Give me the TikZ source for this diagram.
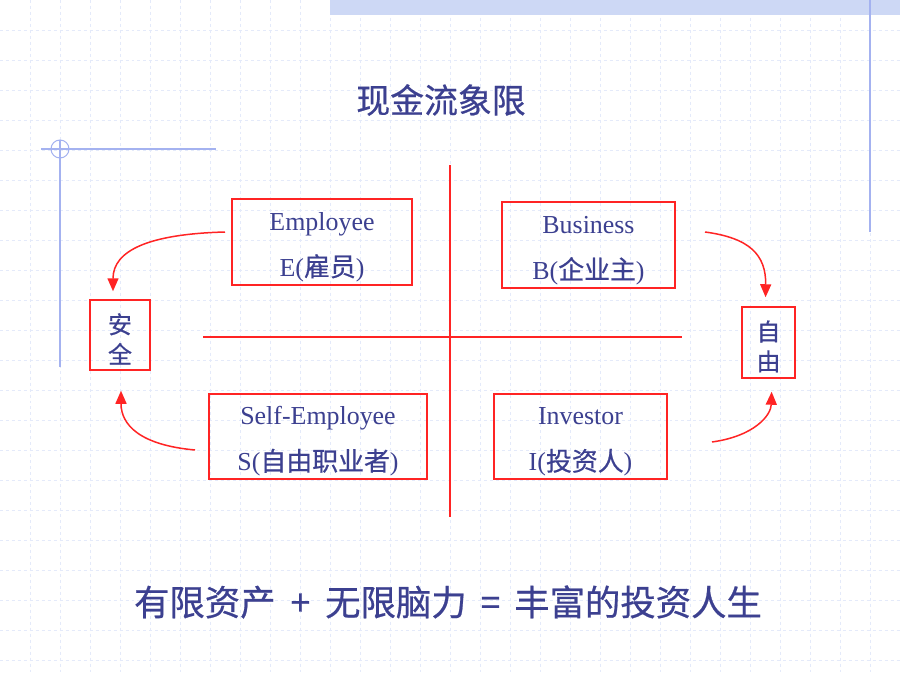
\documentclass[tikz,border=0pt]{standalone}
\usepackage{fontspec}
\setmainfont{Liberation Serif}
\newfontfamily\cjk[FakeBold=0.6]{Noto Sans CJK SC}
\usetikzlibrary{arrows.meta}
\definecolor{inkblue}{HTML}{3C4090}
\definecolor{linered}{HTML}{FF2424}
\definecolor{rulerblue}{HTML}{A4B2F0}
\definecolor{gridblue}{HTML}{E4EAFA}
\definecolor{bandblue}{HTML}{CDD8F5}
\newcommand{\firstline}{\rule{0pt}{28bp}}

\begin{document}
\begin{tikzpicture}[x=1bp,y=-1bp,
    quad/.style={draw=linered,line width=1.5bp,text=inkblue,align=center,inner sep=0pt,
        font=\fontsize{26}{46}\selectfont},
    side/.style={draw=linered,line width=1.5bp,text=inkblue,align=center,inner sep=0pt,
        font=\fontsize{24}{30}\selectfont\cjk},
    flow/.style={draw=linered,line width=1.5bp,-{Triangle[length=13bp,width=11bp]}}]
    \useasboundingbox (0,0) rectangle (900,675);
    \fill[white] (0,0) rectangle (900,675);
    \foreach \i in {30,60,...,870} \draw[gridblue,dashed] (\i,0) -- (\i,675);
    \foreach \j in {30,60,...,660} \draw[gridblue,dashed] (0,\j) -- (900,\j);
    \fill[bandblue] (330,0) rectangle (900,15);

    \draw[rulerblue,line width=1.5bp] (870,0) -- (870,232);
    \draw[rulerblue,line width=1.5bp] (41,149) -- (216,149);
    \draw[rulerblue,line width=1.5bp] (60,140) -- (60,367);
    \draw[rulerblue,line width=1bp] (60,149) circle [radius=9];

    \node[text=inkblue,font=\fontsize{34}{40}\selectfont\cjk] (title) at (441,100) {现金流象限};

    \draw[linered,line width=1.5bp] (203,337) -- (682,337);
    \draw[linered,line width=1.5bp] (450,165) -- (450,517);

    \node[quad,minimum width=180bp,minimum height=86bp] (emp) at (322,242) {\firstline Employee\\E({\cjk 雇员})};
    \node[quad,minimum width=173bp,minimum height=86bp] (bus) at (588.5,245) {\firstline Business\\B({\cjk 企业主})};
    \node[quad,minimum width=218bp,minimum height=85bp] (self) at (318,436.5) {\firstline Self-Employee\\S({\cjk 自由职业者})};
    \node[quad,minimum width=173bp,minimum height=85bp] (inv) at (580.5,436.5) {\firstline Investor\\I({\cjk 投资人})};

    \node[side,minimum width=60bp,minimum height=70bp] (safe) at (120,335) {\rule{0pt}{28bp}安\\全};
    \node[side,minimum width=53bp,minimum height=71bp] (free) at (768.5,342.5) {\rule{0pt}{28bp}自\\由};

    \coordinate (empout) at (225,232);
    \coordinate (selfout) at (195,450);
    \coordinate (busout) at (705,232);
    \coordinate (invout) at (712,442);
    \draw[flow,shorten >=8bp] (empout) .. controls (150,234) and (113,250) .. ([xshift=-7bp]safe.north);
    \draw[flow,shorten >=20bp] (selfout) .. controls (140,445) and (121,425) .. ([xshift=1bp]safe.south);
    \draw[flow,shorten >=9bp] (busout) .. controls (750,238) and (766,255) .. ([xshift=-3bp]free.north);
    \draw[flow,shorten >=13bp] (invout) .. controls (755,436) and (771,415) .. ([xshift=3.5bp]free.south);

    \node[text=inkblue,font=\fontsize{35.5}{40}\selectfont\cjk] (motto) at (448,602)
        {有限资产\hspace{15bp}+\hspace{15bp}无限脑力\hspace{14bp}=\hspace{14bp}丰富的投资人生};
\end{tikzpicture}
\end{document}
